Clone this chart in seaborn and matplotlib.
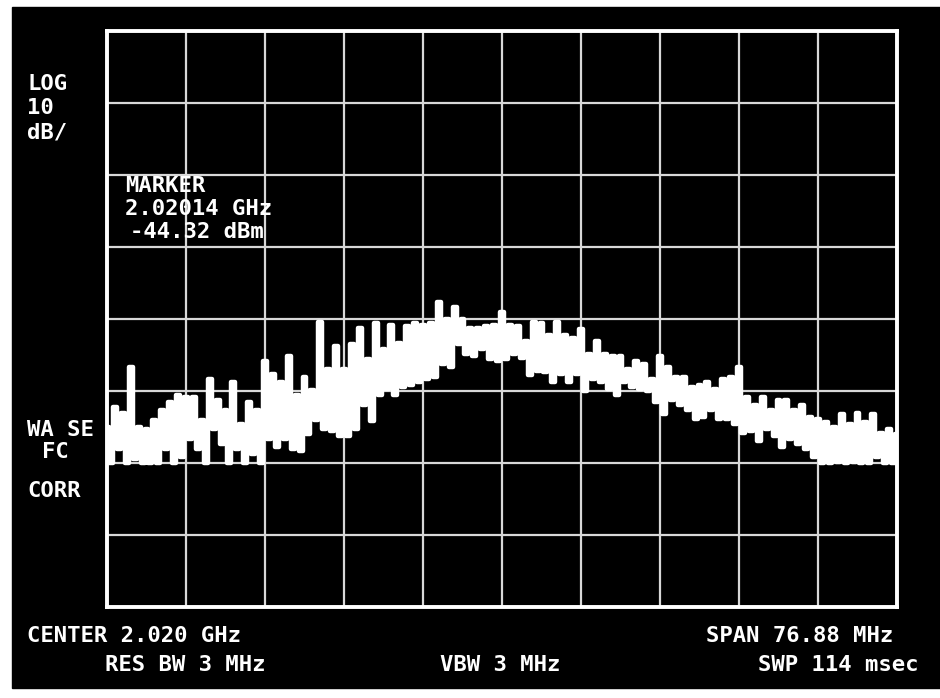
import numpy as np
import pandas as pd
import matplotlib
matplotlib.use("Agg")
import matplotlib.pyplot as plt
import seaborn as sns

# analyzer settings
center_mhz = 2020.0
span_mhz = 76.88
ref_level = -6.0
db_per_div = 10

# trace: upper and lower level of each sweep bucket (dBm)
trace_hi = [-61, -58.2, -59, -52.7, -61, -61.3, -60, -58.6, -57.5, -56.5,
            -56.8, -56.8, -60, -54.4, -57.2, -58.6, -54.8, -60.6, -57.5, -58.6,
            -51.9, -53.7, -54.7, -51.2, -56.5, -54, -55.8, -46.4, -53, -49.8,
            -53, -49.5, -47.2, -51.6, -46.5, -50.2, -46.8, -49.3, -47, -46.5,
            -46.8, -46.5, -43.7, -46, -44.3, -46, -47.2, -47.2, -47, -46.8,
            -45, -46.8, -47, -49.1, -46.4, -46.5, -48.2, -46.4, -48.2, -48.6,
            -47.4, -50.9, -49.1, -50.9, -51.2, -51.2, -53, -51.9, -52.3, -54.4,
            -51.2, -52.7, -54, -54.1, -55.5, -55.1, -54.8, -55.7, -54.4, -54.1,
            -52.7, -56.9, -57.9, -56.8, -58.6, -57.2, -57.2, -58.6, -57.9, -59.6,
            -59.9, -60.3, -61, -59.2, -60.6, -59, -60.3, -59.2, -61.8, -61.3,
            -62]
trace_lo = [-66, -64, -66, -65.5, -66, -66, -66, -64, -66, -65.1,
            -62.7, -64, -66, -61.3, -63.4, -66, -64, -66, -64.8, -66,
            -62.7, -63.8, -62.7, -64, -64.3, -62, -60, -61.3, -61.6, -62.3,
            -62.3, -61.3, -57.9, -60.2, -56.5, -55.7, -56.5, -55.5, -55.1, -54.7,
            -54.4, -54.1, -52.3, -52.7, -49.5, -50.9, -51.2, -50.2, -51.6, -51.9,
            -51.6, -50.9, -51.4, -53.8, -53.2, -53.3, -54.7, -53.7, -54.8, -53.7,
            -56, -54.4, -54.7, -55.7, -56.5, -54.8, -55.5, -55.7, -56, -57.5,
            -59.2, -57.2, -57.9, -58.6, -59.9, -59.6, -58.6, -59.9, -59.9, -60.6,
            -61.9, -61.6, -63, -61.3, -62.3, -63.8, -62.7, -63.4, -64, -65.2,
            -66, -66, -65.9, -66, -65.8, -66, -66, -65.1, -66, -66,
            -66]

left_labels = ["LOG", "10", "dB/"]
status_labels = ["WA SE", "FC", "CORR"]
marker_lines = ["MARKER", "2.02014 GHz", "-44.32 dBm"]

start = center_mhz - span_mhz / 2
stop = center_mhz + span_mhz / 2
freqs = np.linspace(start, stop, len(trace_hi))
half = (freqs[1] - freqs[0]) / 2

# zig-zag between the hi and lo level of each bucket
rows = []
for f, hi, lo in zip(freqs, trace_hi, trace_lo):
    rows.append((f, hi))
    rows.append((min(f + half, stop), lo))
df = pd.DataFrame(rows, columns=["freq", "level"])

sns.set_style("dark", {"axes.facecolor": "black", "grid.color": "#d8d8d8"})
plt.rcParams["font.family"] = ["DejaVu Sans Mono", "DejaVu Sans"]

fig = plt.figure(figsize=(9.4, 6.98), dpi=100)
fig.patch.set_facecolor("white")
W, H = 940, 698
screen = plt.Rectangle((12 / W, 1 - 688 / H), (W - 12) / W, (688 - 7) / H,
                       transform=fig.transFigure, color="black", zorder=-10)
fig.add_artist(screen)

ax = fig.add_axes([107 / W, 1 - 607 / H, (897 - 107) / W, (607 - 31) / H])
ax.set_facecolor("black")
sns.lineplot(data=df, x="freq", y="level", sort=False, estimator=None,
             color="white", linewidth=3.2, drawstyle="steps-mid", ax=ax)

ax.set_xlim(start, stop)
ax.set_ylim(ref_level - 8 * db_per_div, ref_level)
ax.set_xticks(np.linspace(start, stop, 11))
ax.set_yticks(np.arange(ref_level - 8 * db_per_div, ref_level + 1, db_per_div))
ax.grid(True, color="#d8d8d8", linewidth=1.6)
ax.tick_params(length=0, labelbottom=False, labelleft=False)
ax.set_xlabel("")
ax.set_ylabel("")
for s in ax.spines.values():
    s.set_visible(True)
    s.set_color("white")
    s.set_linewidth(2.8)

txt = dict(color="white", fontsize=16, fontweight="bold", va="center")


def put(x, y, s, **kw):
    fig.text(x / W, 1 - y / H, s, **{**txt, **kw})


for i, s in enumerate(left_labels):
    put(27, 84 + i * 24, s)
put(27, 430, status_labels[0])
put(42, 452, status_labels[1])
put(27, 491, status_labels[2])
for i, s in enumerate(marker_lines):
    put(125 if i < 2 else 130, 186 + i * 23, s)

put(27, 636, "CENTER 2.020 GHz")
put(893, 636, "SPAN 76.88 MHz", ha="right")
put(105, 665, "RES BW 3 MHz")
put(440, 665, "VBW 3 MHz")
put(918, 665, "SWP 114 msec", ha="right")

fig.savefig("out.png", dpi=100, facecolor=fig.get_facecolor())
